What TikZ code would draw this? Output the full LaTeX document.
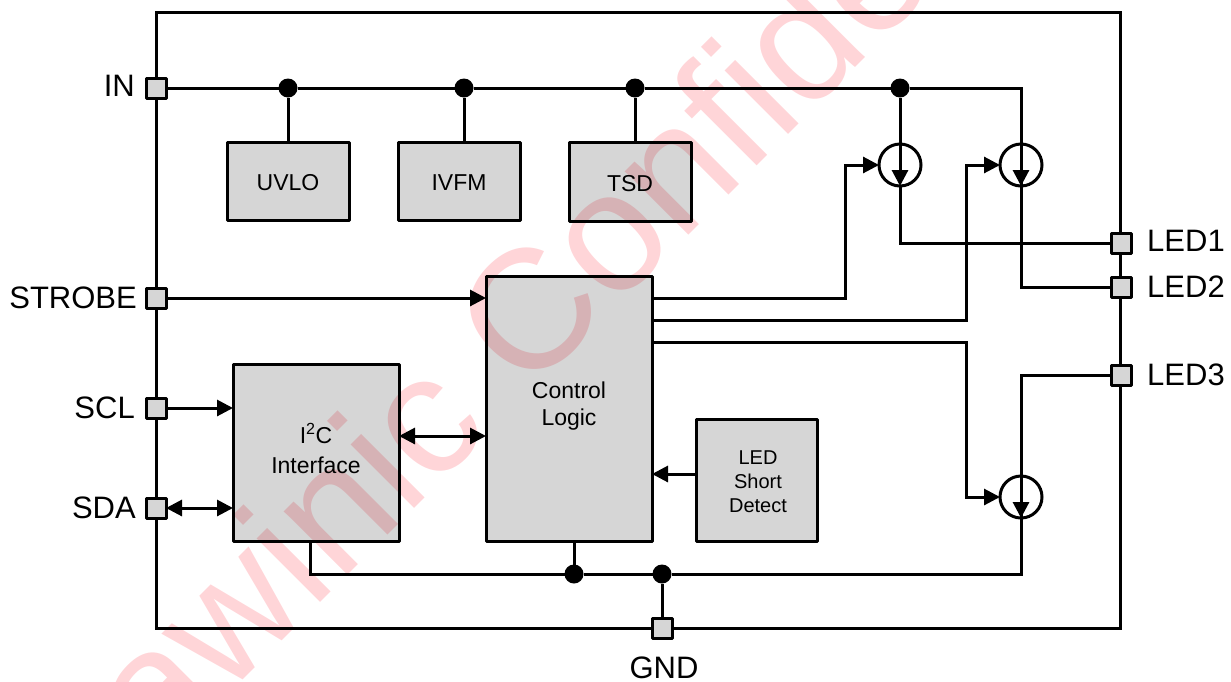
\documentclass[tikz,border=0pt]{standalone}
\usepackage{fontspec}
\setmainfont{Liberation Sans}
\usetikzlibrary{arrows.meta,calc}
\definecolor{blockgrey}{HTML}{D6D6D6}
\definecolor{wmark}{HTML}{FFD5D8}
\tikzset{
  wire/.style={line width=3pt,line join=miter},
  sig/.style={wire,-{Triangle[length=16pt,width=16pt]}},
  bisig/.style={wire,{Triangle[length=16pt,width=16pt]}-{Triangle[length=16pt,width=16pt]}},
  block/.style={draw,fill=blockgrey,line width=3pt,line join=round,anchor=north west,inner sep=0pt,outer sep=0pt,align=center,font=\fontsize{23}{27.5}\selectfont},
  pin/.style={draw,fill=blockgrey,line width=3pt,line join=round,minimum size=20pt,inner sep=0pt,outer sep=0pt},
  dot/.style={circle,fill=black,minimum size=19pt,inner sep=0pt,outer sep=0pt},
  src/.style={circle,draw,line width=3pt,minimum size=42pt,inner sep=0pt,outer sep=0pt},
  pinlabel/.style={font=\fontsize{31}{35}\selectfont,inner sep=0pt}
}
\begin{document}
\begin{tikzpicture}[x=1pt,y=-1pt]
\useasboundingbox (0,0) rectangle (1231,681);
% frame
\draw[line width=3pt] (156,12) rectangle (1120,628);
% blocks
\node[block,minimum width=122pt,minimum height=78pt] (uvlo) at (227,142) {\raisebox{-9.5pt}[0pt][0pt]{UVLO}};
\node[block,minimum width=122pt,minimum height=78pt] (ivfm) at (398,142) {\raisebox{-9.5pt}[0pt][0pt]{IVFM}};
\node[block,minimum width=122pt,minimum height=79pt] (tsd) at (569,142) {\raisebox{-9.5pt}[0pt][0pt]{TSD}};
\node[block,minimum width=166pt,minimum height=265pt] (ctrl) at (486,276) {\raisebox{25pt}{\begin{tabular}{@{}c@{}}Control\\[-0.5pt]Logic\end{tabular}}};
\node[block,minimum width=166pt,minimum height=177pt] (i2c) at (233,364) {\raisebox{12pt}{\begin{tabular}{@{}c@{}}I\textsuperscript{2}C\\[3pt]Interface\end{tabular}}};
\node[block,minimum width=121pt,minimum height=122pt,font=\fontsize{20}{24}\selectfont] (short) at (696,419) {\hspace{3pt}\raisebox{-9pt}[0pt][0pt]{\begin{tabular}{@{}c@{}}LED\\Short\\Detect\end{tabular}}};
% current sources
\node[src] (s1) at (900,165) {};
\node[src] (s2) at (1021,165) {};
\node[src] (s3) at (1021,497) {};
% pins
\node[pin] (in) at (156,88) {};
\node[pin] (strobe) at (156,298) {};
\node[pin] (scl) at (156,408) {};
\node[pin] (sda) at (156,508) {};
\node[pin] (led1) at (1121,243) {};
\node[pin] (led2) at (1121,287) {};
\node[pin] (led3) at (1121,375) {};
\node[pin] (gnd) at (662,628) {};
% pin labels
\node[pinlabel,anchor=east] (lin) at (135,86) {IN};
\node[pinlabel,anchor=east] (lstrobe) at (137,298) {STROBE};
\node[pinlabel,anchor=east] (lscl) at (135,408) {SCL};
\node[pinlabel,anchor=east] (lsda) at (136,508) {SDA};
\node[pinlabel,anchor=west] (lled1) at (1147,241) {LED1};
\node[pinlabel,anchor=west] (lled2) at (1147,287) {LED2};
\node[pinlabel,anchor=west] (lled3) at (1147,375) {LED3};
\node[pinlabel,anchor=north] (lgnd) at (664,657) {GND};
% junctions
\node[dot] (j1) at (288,88) {};
\node[dot] (j2) at (464,88) {};
\node[dot] (j3) at (635,88) {};
\node[dot] (j4) at (900,88) {};
\node[dot] (j5) at (574,574) {};
\node[dot] (j6) at (662,574) {};
% helper points
\coordinate (c1) at (652,298);
\coordinate (c2) at (652,320);
\coordinate (c3) at (652,342);
\coordinate (t1) at (900,186);
\coordinate (t2) at (1021,186);
\coordinate (t3) at (1021,518);
\coordinate (i2cbot) at (310,541);
\coordinate (corner) at (1021,574);
\coordinate (i2cr) at (399,436);
\coordinate (ctrll) at (486,436);
\coordinate (shortl) at (696,474);
\coordinate (ctrlr) at (652,474);
% wires
\draw[wire] (in) -- (j1) -- (j2) -- (j3) -- (j4);
\draw[wire] (j4) -| (t2);
\draw[wire] (j1) -- (uvlo.north -| j1);
\draw[wire] (j2) -- (ivfm.north -| j2);
\draw[wire] (j3) -- (tsd.north -| j3);
\draw[sig] (j4) -- (t1);
\draw[sig] (j4 -| t2) -- (t2);
\draw[wire] (t1) |- (led1);
\draw[wire] (t2) |- (led2);
\draw[wire] (led3) -| (t3);
\draw[sig] (led3 -| t3) -- (t3);
\draw[wire] (t3) -- (corner) -- (j6) -- (j5) -| (i2cbot);
\draw[wire] (j5) -- (j5 |- ctrl.south);
\draw[wire] (j6) -- (gnd);
\draw[sig] (c1) -- (845,298) |- (s1.west);
\draw[sig] (c2) -- (966,320) |- (s2.west);
\draw[sig] (c3) -- (966,342) |- (s3.west);
\draw[sig] (strobe) -- (strobe -| ctrl.west);
\draw[sig] (scl) -- (scl -| i2c.west);
\draw[bisig] (sda) -- (sda -| i2c.west);
\draw[bisig] (i2cr) -- (ctrll);
\draw[sig] (shortl) -- (ctrlr);
% watermark
\begin{scope}[blend mode=multiply]
\clip (0,0) rectangle (1231,681);
\node[text=wmark,font=\fontsize{170}{170}\selectfont,anchor=base west,rotate=45,inner sep=0pt] (wm) at (159,764) {awinic Confidential};
\end{scope}
\end{tikzpicture}
\end{document}
